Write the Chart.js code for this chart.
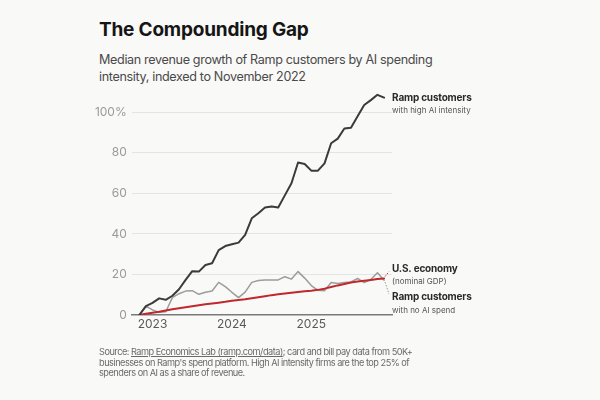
<!DOCTYPE html>
<html>
<head>
<meta charset="utf-8">
<script src="https://cdn.jsdelivr.net/npm/chart.js@4"></script>
<style>
    html, body { margin: 0; padding: 0; background: #f9f9f8; }
    body { width: 600px; height: 400px; position: relative; overflow: hidden; font-family: Inter, "Noto Sans", sans-serif; }
    #chart { position: absolute; left: 0; top: 0; }
    .title { position: absolute; left: 99px; top: 18px; font-size: 19px; font-weight: 700; color: #151515; letter-spacing: -0.2px; white-space: nowrap; }
    .subtitle { position: absolute; left: 99px; top: 51px; font-size: 12.6px; line-height: 17px; color: #4a4a4a; letter-spacing: -0.35px; white-space: nowrap; }
    .source { position: absolute; left: 99px; top: 347px; font-size: 9.2px; line-height: 10.7px; color: #6a6a6a; letter-spacing: -0.5px; white-space: nowrap; }
    .source u { text-decoration-thickness: 1px; }
</style>
</head>
<body>
<div class="title">The Compounding Gap</div>
<div class="subtitle">Median revenue growth of Ramp customers by AI spending<br>intensity, indexed to November 2022</div>
<canvas id="chart" width="600" height="400"></canvas>
<div class="source">Source: <u>Ramp Economics Lab (ramp.com/data)</u>; card and bill pay data from 50K+<br>businesses on Ramp's spend platform. High AI intensity firms are the top 25% of<br>spenders on AI as a share of revenue.</div>
<script>
(function() {
    'use strict';

    // Months since November 2022 (0 = Nov 2022, 37 = Dec 2025)
    const months = Array.from({ length: 38 }, (_, i) => i);

    // Year tick positions (January of each year) and labels
    const yearTicks = [2, 14, 26];
    const yearLabels = ['2023', '2024', '2025'];

    // Y axis ticks
    const yTicks = [0, 20, 40, 60, 80, 100];

    // Ramp customers with high AI intensity (% growth)
    const highAI = [0, 4.4, 6, 8.2, 7.5, 9.5, 12.7, 17.3, 21.6, 21.4, 24.7, 25.5,
        32, 34, 34.9, 35.7, 39.5, 47.7, 50.2, 53, 53.5, 53, 59, 65,
        75.2, 74.5, 71.2, 71.2, 74.8, 84.7, 87, 92, 92.4, 98, 103.6, 106,
        108.6, 107.2];

    // U.S. economy, nominal GDP (% growth)
    const usEconomy = [0, 0.6, 1.1, 1.6, 2.2, 2.8, 3.3, 3.8, 4.3, 4.8, 5.3, 5.7,
        6.1, 6.5, 7.0, 7.4, 7.8, 8.3, 8.8, 9.3, 9.8, 10.2, 10.6, 11.0,
        11.4, 11.7, 12.0, 12.4, 13.0, 13.8, 14.6, 15.3, 16.0, 16.5, 16.9, 17.3,
        17.7, 18.0];

    // Ramp customers with no AI spend (% growth)
    const noAI = [0, 4.4, 2.5, 1.3, 1.6, 8.6, 10.5, 11.8, 12, 10.2, 11.2, 11.8,
        16.1, 14, 11.2, 8.6, 11.3, 16.1, 17, 17.3, 17.3, 17.3, 18.9, 17.7,
        21.4, 18.2, 14.5, 12.2, 12, 16, 15.5, 16, 16.3, 18, 16, 17.5,
        20.8, 17.2];

    const seriesLabels = [
        { title: 'Ramp customers', sub: 'with high AI intensity' },
        { title: 'U.S. economy', sub: '(nominal GDP)' },
        { title: 'Ramp customers', sub: 'with no AI spend' }
    ];

    const toPoints = arr => arr.map((v, i) => ({ x: months[i], y: v }));

    /**
     * Draw series labels at the end of each line, with dotted leaders
     * for the two lines that end close together
     */
    const endLabels = {
        id: 'endLabels',
        afterDatasetsDraw(chart) {
            const ctx = chart.ctx;
            const xs = chart.scales.x;
            const ys = chart.scales.y;
            const n = months.length - 1;
            const lastX = xs.getPixelForValue(months[n]);
            const textX = lastX + 8;

            const items = [
                { y: ys.getPixelForValue(highAI[n]), dy: 0, leader: null },
                { y: ys.getPixelForValue(usEconomy[n]), dy: -10, leader: '#c0282d' },
                { y: ys.getPixelForValue(noAI[n]), dy: 17, leader: '#9a9a9a' }
            ];

            ctx.save();
            items.forEach((it, k) => {
                const ty = it.y + it.dy;
                if (it.leader) {
                    ctx.strokeStyle = it.leader;
                    ctx.lineWidth = 1;
                    ctx.setLineDash([1.5, 1.5]);
                    ctx.beginPath();
                    ctx.moveTo(lastX + 1, it.y + (it.dy < 0 ? -2 : 2));
                    ctx.lineTo(lastX + 5, ty + (it.dy < 0 ? 3 : -3));
                    ctx.stroke();
                    ctx.setLineDash([]);
                }
                ctx.textAlign = 'left';
                ctx.textBaseline = 'middle';
                ctx.fillStyle = '#2a2a2a';
                ctx.letterSpacing = '-0.2px';
                ctx.font = '700 10px Inter, sans-serif';
                ctx.fillText(seriesLabels[k].title, textX, ty);
                ctx.fillStyle = '#555';
                ctx.letterSpacing = '0px';
                ctx.font = '400 8px Inter, sans-serif';
                ctx.fillText(seriesLabels[k].sub, textX, ty + 13);
            });
            ctx.restore();
        }
    };

    new Chart(document.getElementById('chart').getContext('2d'), {
        type: 'line',
        data: {
            datasets: [
                {
                    label: 'High AI intensity',
                    data: toPoints(highAI),
                    borderColor: '#3b3b3d',
                    borderWidth: 2,
                    order: 1
                },
                {
                    label: 'U.S. economy',
                    data: toPoints(usEconomy),
                    borderColor: '#c0282d',
                    borderWidth: 2,
                    order: 2
                },
                {
                    label: 'No AI spend',
                    data: toPoints(noAI),
                    borderColor: '#9c9c9c',
                    borderWidth: 1.5,
                    order: 3
                }
            ]
        },
        options: {
            responsive: false,
            animation: false,
            events: [],
            elements: {
                point: { radius: 0 },
                line: { tension: 0, borderJoinStyle: 'round', borderCapStyle: 'round' }
            },
            layout: {
                padding: { left: 0, right: 208, top: 92, bottom: 60 }
            },
            plugins: {
                legend: { display: false },
                tooltip: { enabled: false }
            },
            scales: {
                x: {
                    type: 'linear',
                    min: -1.15,
                    max: 38.2,
                    afterBuildTicks(scale) {
                        scale.ticks = yearTicks.map(v => ({ value: v }));
                    },
                    afterFit(scale) { scale.height = 25; },
                    ticks: {
                        callback: (v) => yearLabels[yearTicks.indexOf(v)],
                        color: '#5a5a5a',
                        font: { family: 'Inter', size: 12 },
                        padding: 2,
                        maxRotation: 0,
                        autoSkip: false
                    },
                    grid: { display: false, drawTicks: false },
                    border: { display: true, color: '#7a7a7a', width: 1.5 }
                },
                y: {
                    min: 0,
                    max: 110,
                    afterBuildTicks(scale) {
                        scale.ticks = yTicks.map(v => ({ value: v }));
                    },
                    afterFit(scale) { scale.width = 131.7; },
                    ticks: {
                        callback: (v) => v === 100 ? '100%' : String(v),
                        color: '#9a9a9a',
                        font: { family: 'Inter', size: 12 },
                        padding: 5
                    },
                    grid: {
                        color: (c) => c.tick && c.tick.value === 0 ? 'rgba(0,0,0,0)' : '#e4e4e4',
                        lineWidth: 1,
                        drawTicks: false
                    },
                    border: { display: false }
                }
            }
        },
        plugins: [endLabels]
    });
})();
</script>
</body>
</html>
